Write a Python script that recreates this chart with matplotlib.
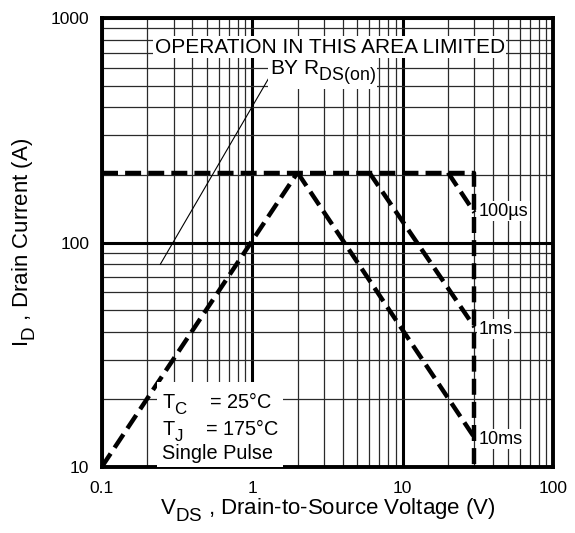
import matplotlib
matplotlib.use("Agg")
import matplotlib.pyplot as plt
import matplotlib._mathtext as mathtext_internal
from matplotlib.ticker import LogLocator, FixedLocator, NullFormatter

plt.rcParams['font.family'] = ['Liberation Sans', 'DejaVu Sans']
plt.rcParams['mathtext.fontset'] = 'custom'
plt.rcParams['mathtext.rm'] = 'Liberation Sans'
plt.rcParams['mathtext.it'] = 'Liberation Sans:italic'
# subscripts in the datasheet are nearly full size and sit low
mathtext_internal.SHRINK_FACTOR = 0.85
mathtext_internal.FontConstantsBase.sub1 = 0.6
mathtext_internal.FontConstantsBase.subdrop = 0.6

# safe operating area limits (V, A)
id_max = 205
rds_v = [0.1, 2.0]
rds_i = [10, id_max]
limit_v = [0.1, 30, 30]
limit_i = [id_max, id_max, 10]
ms10_v = [2.0, 30]
ms10_i = [id_max, 13.5]
ms1_v = [6.0, 30]
ms1_i = [id_max, 42]
us100_v = [20.0, 30]
us100_i = [id_max, 136]
pointer_v = [0.245, 1.37]
pointer_i = [80, 580]

xticks = [0.1, 1, 10, 100]
xticklabels = ['0.1', '1', '10', '100']
yticks = [10, 100, 1000]
yticklabels = ['10', '100', '1000']

fig = plt.figure(figsize=(5.75, 5.33), dpi=100)
ax = fig.add_axes([0.177, 0.124, 0.785, 0.842])
ax.set_xscale('log')
ax.set_yscale('log')
ax.set_xlim(0.1, 100)
ax.set_ylim(10, 1000)

ax.xaxis.set_major_locator(FixedLocator(xticks))
ax.set_xticklabels(xticklabels)
ax.yaxis.set_major_locator(FixedLocator(yticks))
ax.set_yticklabels(yticklabels)
ax.xaxis.set_minor_locator(LogLocator(base=10, subs=range(2, 10)))
ax.yaxis.set_minor_locator(LogLocator(base=10, subs=range(2, 10)))
ax.xaxis.set_minor_formatter(NullFormatter())
ax.yaxis.set_minor_formatter(NullFormatter())
ax.tick_params(which='both', length=0, labelsize=12.5)
ax.tick_params(axis='x', pad=10)
ax.tick_params(axis='y', pad=9)

ax.grid(which='major', color='black', linewidth=2.2)
ax.grid(which='minor', color='#2a2a2a', linewidth=0.9)
ax.set_axisbelow(True)
for s in ax.spines.values():
    s.set_linewidth(2.8)

dash = dict(color='black', linewidth=3.2, linestyle=(0, (3.6, 1.6)), zorder=3)
ax.plot(rds_v, rds_i, **dash)
ax.plot(limit_v, limit_i, **dash)
ax.plot(ms10_v, ms10_i, **dash)
ax.plot(ms1_v, ms1_i, **dash)
ax.plot(us100_v, us100_i, **dash)
ax.plot(pointer_v, pointer_i, color='black', linewidth=0.8, zorder=3)

box = dict(facecolor='white', edgecolor='none', pad=1)
ax.text(0.505, 0.935, 'OPERATION IN THIS AREA LIMITED', transform=ax.transAxes,
        ha='center', va='center', fontsize=15, bbox=box, zorder=5)
ax.text(0.49, 0.877, r'BY R$_\mathregular{DS(on)}$', transform=ax.transAxes,
        ha='center', va='center', fontsize=15, bbox=box, zorder=5)

ax.text(32, 138, '100µs', ha='left', va='center', fontsize=13, bbox=box, zorder=4)
ax.text(32, 41, '1ms', ha='left', va='center', fontsize=13, bbox=box, zorder=4)
ax.text(32, 13.3, '10ms', ha='left', va='center', fontsize=13, bbox=box, zorder=4)

ax.text(0.25, 15.1, 'T$_\\mathregular{C}$    = 25°C\nT$_\\mathregular{J}$    = 175°C\nSingle Pulse',
        ha='left', va='center', fontsize=14.3, linespacing=1.0,
        bbox=dict(facecolor='white', edgecolor='none', pad=3), zorder=5)

ax.set_xlabel(r'V$_\mathregular{DS}$ , Drain-to-Source Voltage (V)', fontsize=16, labelpad=1)
ax.set_ylabel(r'I$_\mathregular{D}$ , Drain Current (A)', fontsize=16, labelpad=9)

fig.savefig('out.png', dpi=100)
